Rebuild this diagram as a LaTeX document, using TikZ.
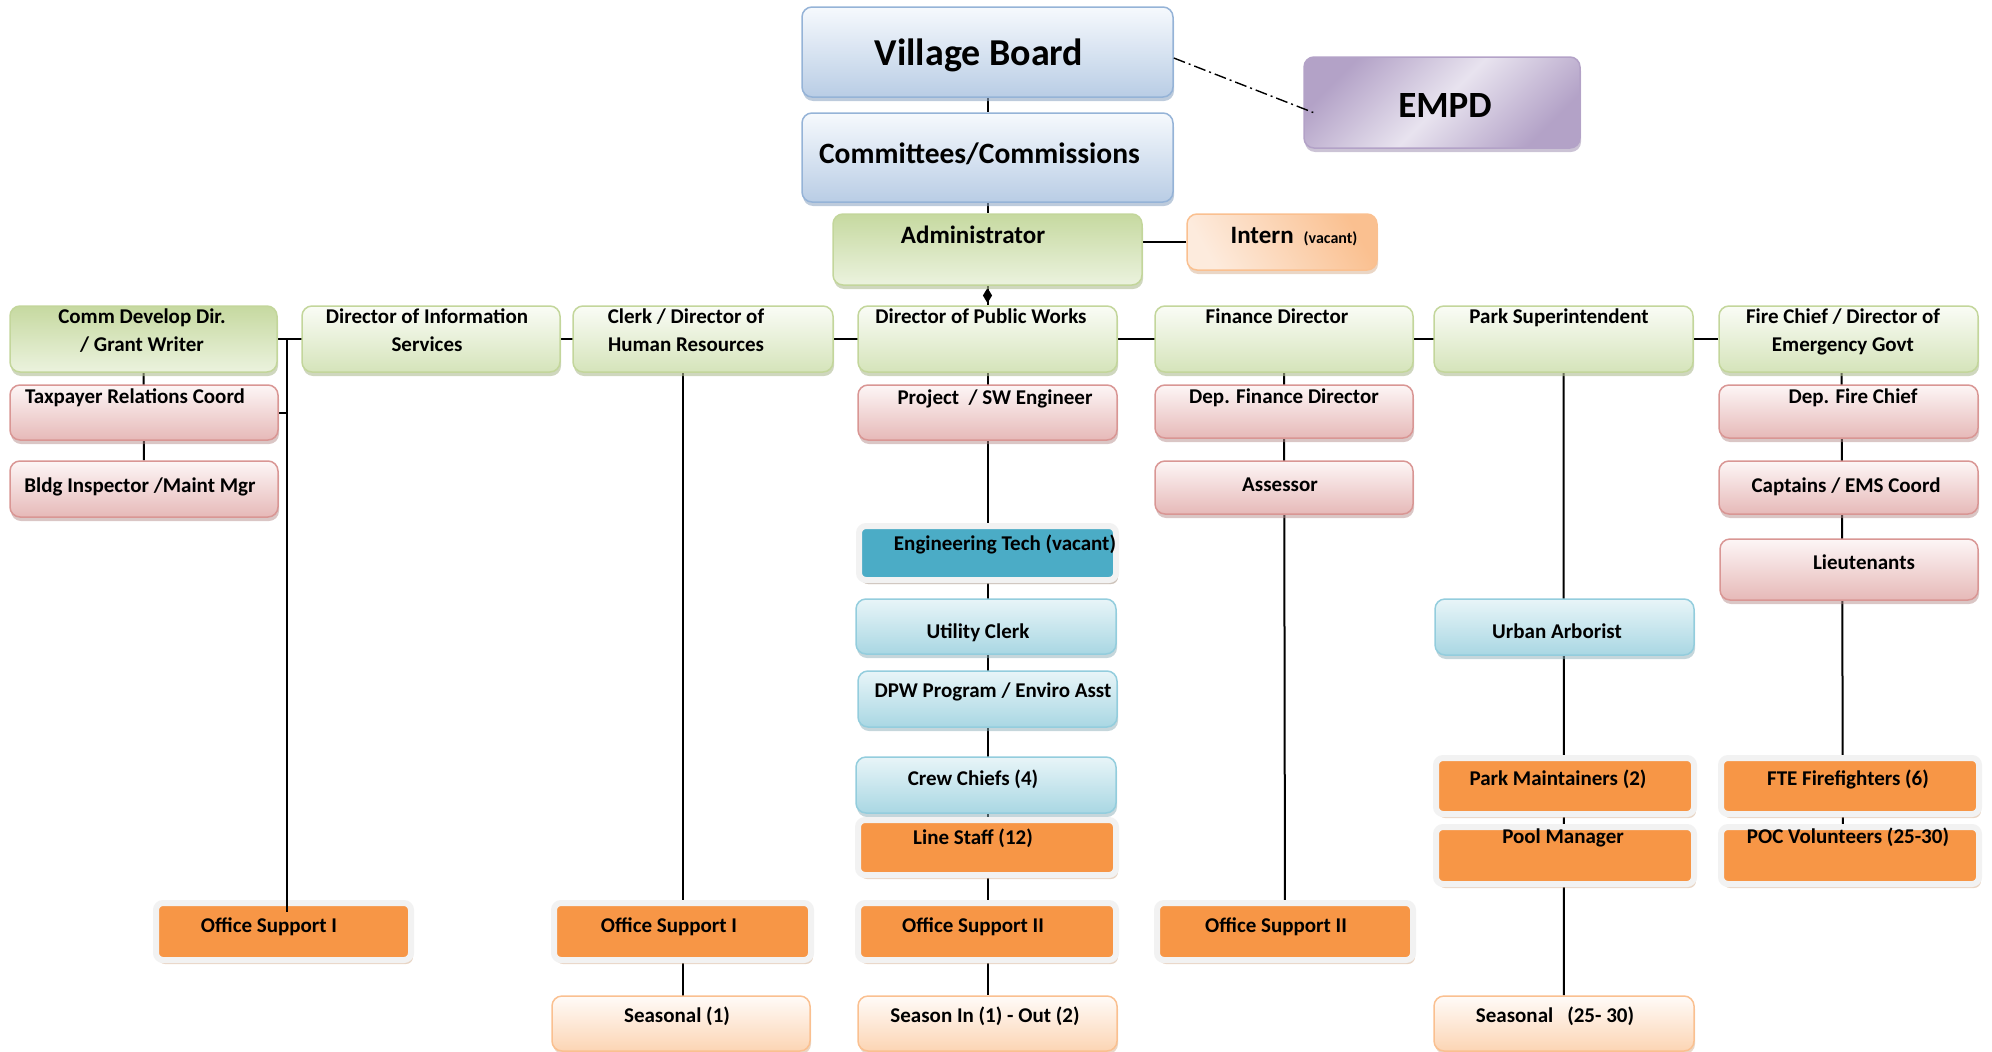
\documentclass[tikz,border=0pt]{standalone}
\usepackage{fontspec}
\setmainfont{Carlito}
\usepackage{xcolor}
\usetikzlibrary{shapes.geometric}
\usetikzlibrary{shadows}
\usetikzlibrary{backgrounds}

\definecolor{boardtop}{HTML}{F6F9FD}
\definecolor{boardbot}{HTML}{B9CDE5}
\definecolor{boardedge}{HTML}{95B3D7}
\definecolor{empdA}{HTML}{B3A2C7}
\definecolor{empdB}{HTML}{E8E3EF}
\definecolor{empdedge}{HTML}{B3A2C7}
\definecolor{depttop}{HTML}{FAFCF6}
\definecolor{deptbot}{HTML}{D5E4BA}
\definecolor{deptdark}{HTML}{C6D9A0}
\definecolor{deptedge}{HTML}{C3D69B}
\definecolor{stafftop}{HTML}{FDF6F6}
\definecolor{staffbot}{HTML}{E6B9B8}
\definecolor{staffedge}{HTML}{D99694}
\definecolor{crewtop}{HTML}{E8F5F8}
\definecolor{crewbot}{HTML}{A9D7E3}
\definecolor{crewedge}{HTML}{93CDDD}
\definecolor{tealfill}{HTML}{4BACC6}
\definecolor{orangefill}{HTML}{F79646}
\definecolor{rimgray}{HTML}{F2F2F2}
\definecolor{tanshadow}{HTML}{D2AB8A}
\definecolor{temptop}{HTML}{FFFBF8}
\definecolor{tempbot}{HTML}{FCD5B4}
\definecolor{tempedge}{HTML}{FAC090}
\definecolor{interndark}{HTML}{FAC090}
\definecolor{internlight}{HTML}{FDEBDD}

\begin{document}
\begin{tikzpicture}[x=1pt, y=-1pt, line width=2pt,
    boxbase/.style = {rectangle, rounded corners=10pt, line width=1.5pt, inner sep=0pt},
    board/.style = {boxbase, draw=boardedge, top color=boardtop, bottom color=boardbot,
        drop shadow={shadow xshift=1pt, shadow yshift=-4pt, fill=boardedge!80!gray, opacity=.6}},
    ext/.style = {boxbase, draw=empdedge, left color=empdA, right color=empdA, middle color=empdB, shading angle=45,
        drop shadow={shadow xshift=1pt, shadow yshift=-4pt, fill=empdA!80!gray, opacity=.6}},
    dept/.style = {boxbase, draw=deptedge, top color=depttop, bottom color=deptbot,
        drop shadow={shadow xshift=1pt, shadow yshift=-4pt, fill=deptedge!70!gray, opacity=.6}},
    deptdk/.style = {dept, top color=deptdark, bottom color=depttop!60!deptbot},
    staff/.style = {boxbase, draw=staffedge, top color=stafftop, bottom color=staffbot,
        drop shadow={shadow xshift=1pt, shadow yshift=-4pt, fill=staffedge!60!gray, opacity=.5}},
    crew/.style = {boxbase, draw=crewedge, top color=crewtop, bottom color=crewbot,
        drop shadow={shadow xshift=1pt, shadow yshift=-4pt, fill=crewedge!60!gray, opacity=.5}},
    solid/.style = {boxbase, rounded corners=7pt, draw=rimgray, line width=6pt,
        drop shadow={shadow xshift=2pt, shadow yshift=-4pt, fill=tanshadow}},
    field/.style = {solid, fill=orangefill},
    vacant/.style = {solid, fill=tealfill, drop shadow={shadow xshift=2pt, shadow yshift=-4pt, fill=gray!60}},
    temp/.style = {boxbase, draw=tempedge, top color=temptop, bottom color=tempbot,
        drop shadow={shadow xshift=1pt, shadow yshift=-3pt, fill=tempedge!70!gray, opacity=.5}},
    intern/.style = {boxbase, draw=tempedge, left color=interndark, right color=internlight, shading angle=-60,
        drop shadow={shadow xshift=1pt, shadow yshift=-4pt, fill=tempedge!70!gray, opacity=.5}},
    link/.style = {draw=black, line width=2pt},
    lbl/.style = {anchor=base, inner sep=0pt, align=center, font=\bfseries\fontsize{21}{28}\selectfont},
    dmark/.style = {diamond, fill=black, inner sep=0pt, minimum width=10pt, minimum height=16pt}]

\useasboundingbox (0,0) rectangle (1992,1052);

% Boxes
\node[board, minimum width=371pt, minimum height=90pt] (vb) at (987.5,52) {};
\node[board, minimum width=371pt, minimum height=89pt] (cc) at (987.5,157.5) {};
\node[ext, minimum width=276pt, minimum height=91pt] (empd) at (1442,102.5) {};
\node[deptdk, minimum width=309pt, minimum height=71pt] (admin) at (987.5,249.5) {};
\node[intern, minimum width=190pt, minimum height=56pt] (intern) at (1282,242) {};

% department heads
\node[deptdk, minimum width=267pt, minimum height=66pt] (comm) at (143.5,339) {};
\node[dept, minimum width=258pt, minimum height=66pt] (info) at (431,339) {};
\node[dept, minimum width=260pt, minimum height=66pt] (clerk) at (703,339) {};
\node[dept, minimum width=259pt, minimum height=66pt] (dpw) at (987.5,339) {};
\node[dept, minimum width=258pt, minimum height=66pt] (fin) at (1284,339) {};
\node[dept, minimum width=259pt, minimum height=66pt] (park) at (1563.5,339) {};
\node[dept, minimum width=259pt, minimum height=66pt] (fire) at (1848.5,339) {};

% staff
\node[staff, minimum width=268pt, minimum height=55pt] (tax) at (144,412.5) {};
\node[staff, minimum width=268pt, minimum height=56pt] (bldg) at (144,489) {};
\node[staff, minimum width=259pt, minimum height=55pt] (proj) at (987.5,412.5) {};
\node[staff, minimum width=258pt, minimum height=53pt] (depfin) at (1284,411.5) {};
\node[staff, minimum width=258pt, minimum height=53pt] (assessor) at (1284,487.5) {};
\node[staff, minimum width=259pt, minimum height=53pt] (depfire) at (1848.5,411.5) {};
\node[staff, minimum width=259pt, minimum height=53pt] (captains) at (1848.5,487.5) {};
\node[staff, minimum width=258pt, minimum height=61pt] (lieut) at (1849,569.5) {};

\node[vacant, minimum width=257pt, minimum height=54pt] (engtech) at (987.5,553) {};
\node[crew, minimum width=260pt, minimum height=55pt] (utility) at (986,626.5) {};
\node[crew, minimum width=259pt, minimum height=56pt] (dpwprog) at (987.5,699) {};
\node[crew, minimum width=260pt, minimum height=56pt] (crewch) at (986,785) {};
\node[crew, minimum width=259pt, minimum height=56pt] (arborist) at (1564.5,627) {};

% field staff
\node[field, minimum width=258pt, minimum height=55pt] (linestaff) at (987,847.5) {};
\node[field, minimum width=255pt, minimum height=57pt] (osa) at (283.5,931.5) {};
\node[field, minimum width=257pt, minimum height=57pt] (osb) at (682.5,931.5) {};
\node[field, minimum width=258pt, minimum height=57pt] (osc) at (987,931.5) {};
\node[field, minimum width=256pt, minimum height=57pt] (osd) at (1285,931.5) {};
\node[field, minimum width=258pt, minimum height=56pt] (parkmaint) at (1565,786) {};
\node[field, minimum width=258pt, minimum height=57pt] (pool) at (1565,855.5) {};
\node[field, minimum width=258pt, minimum height=56pt] (fte) at (1850,786) {};
\node[field, minimum width=258pt, minimum height=57pt] (poc) at (1850,855.5) {};

\node[temp, minimum width=258pt, minimum height=55pt] (seasa) at (681,1023.5) {};
\node[temp, minimum width=259pt, minimum height=55pt] (seasb) at (987.5,1023.5) {};
\node[temp, minimum width=260pt, minimum height=55pt] (seasc) at (1564,1023.5) {};

% Lines
\begin{scope}[on background layer]
    \draw[link] (vb) -- (cc);
    \draw[link] (cc) -- (admin);
    \draw[link] (intern) -- (intern -| admin);
    \draw[link] (admin) -- node[dmark] (dm) {} (dpw);
    \draw[link] (comm) -- (fire);
    \draw[link] (comm) -- (bldg);
    \draw[link] (tax.east) -- (tax.east -| 287,0);
    \draw[link] (clerk.center -| osb) -- (seasa.center -| osb);
    \draw[link] (dpw) -- (seasb);
    \draw[link] (fin) -- (osd);
    \draw[link] (park) -- (seasc);
    \draw[link] ([xshift=-7pt]fire.center) -- ([xshift=-7pt]poc.center);
\end{scope}
\coordinate (cdbus) at (287,339);
\draw[link] (cdbus) -- (cdbus |- 0,912);
\draw[line width=1.4pt, dash pattern=on 12pt off 4pt on 2pt off 4pt] ([yshift=-6pt]vb.east) -- ([yshift=-10pt, xshift=10pt]empd.west);

% Labels
\node[lbl, font=\bfseries\fontsize{38}{42}\selectfont] (vb-t) at (979,65) {Village Board};
\node[lbl, font=\bfseries\fontsize{29.5}{34}\selectfont] (cc-t) at (979.5,163) {Committees/Commissions};
\node[lbl, font=\bfseries\fontsize{37}{42}\selectfont] (empd-t) at (1445,117) {EMPD};
\node[lbl, font=\bfseries\fontsize{25}{30}\selectfont] (admin-t) at (973,243) {Administrator};
\node[lbl, font=\bfseries\fontsize{25}{30}\selectfont] (intern-t) at (1294,243) {Intern\hspace{10pt}{\fontsize{16}{16}\selectfont(vacant)}};

\node[lbl] (comm-t) at (142,351) {Comm Develop Dir.\\ / Grant Writer};
\node[lbl] (info-t) at (427,351) {Director of Information\\ Services};
\node[lbl] (clerk-t) at (686,351) {Clerk / Director of\\ Human Resources};
\node[lbl] (dpw-t) at (981,323) {Director of Public Works};
\node[lbl] (fin-t) at (1277,323) {Finance Director};
\node[lbl] (park-t) at (1559,323) {Park Superintendent};
\node[lbl] (fire-t) at (1843,351) {Fire Chief / Director of\\ Emergency Govt};

\node[lbl] (tax-t) at (135,403) {Taxpayer Relations Coord};
\node[lbl] (bldg-t) at (140,492) {Bldg Inspector /Maint Mgr};
\node[lbl] (proj-t) at (995,404) {Project\ \ / SW Engineer};
\node[lbl] (depfin-t) at (1284,403) {Dep. Finance Director};
\node[lbl] (assessor-t) at (1280,491) {Assessor};
\node[lbl] (depfire-t) at (1853,403) {Dep. Fire Chief};
\node[lbl] (captains-t) at (1846,492) {Captains / EMS Coord};
\node[lbl] (lieut-t) at (1864,569) {Lieutenants};

\node[lbl] (engtech-t) at (1005,550) {Engineering Tech (vacant)};
\node[lbl] (utility-t) at (978,638) {Utility Clerk};
\node[lbl] (dpwprog-t) at (993,697) {DPW Program / Enviro Asst};
\node[lbl] (crewch-t) at (973,785) {Crew Chiefs (4)};
\node[lbl] (arborist-t) at (1557,638) {Urban Arborist};

\node[lbl] (linestaff-t) at (973,844) {Line Staff (12)};
\node[lbl] (parkmaint-t) at (1558,785) {Park Maintainers (2)};
\node[lbl] (pool-t) at (1563,843) {Pool Manager};
\node[lbl] (fte-t) at (1848,785) {FTE Firefighters (6)};
\node[lbl] (poc-t) at (1848,843) {POC Volunteers (25-30)};
\node[lbl] (osa-t) at (269,932) {Office Support I};
\node[lbl] (osb-t) at (669,932) {Office Support I};
\node[lbl] (osc-t) at (973,932) {Office Support II};
\node[lbl] (osd-t) at (1276,932) {Office Support II};
\node[lbl] (seasa-t) at (677,1022) {Seasonal (1)};
\node[lbl] (seasb-t) at (985,1022) {Season In (1) - Out (2)};
\node[lbl] (seasc-t) at (1555,1022) {Seasonal\hspace{14pt}(25- 30)};

\end{tikzpicture}
\end{document}
